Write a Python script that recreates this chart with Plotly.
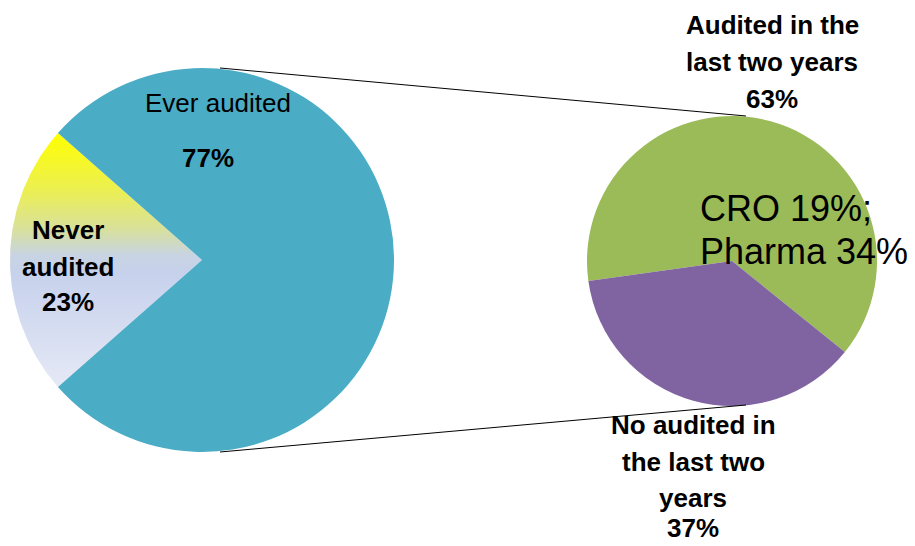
import numpy as np
import plotly.graph_objects as go

W, H = 915, 546

# Main pie: share of sites ever audited
main_labels = ["Ever audited", "Never audited"]
main_values = [77, 23]

# Secondary pie: breakdown of the audited share
sub_labels = ["Audited in the last two years", "No audited in the last two years"]
sub_values = [63, 37]
sub_note = ["CRO 19%;", "Pharma 34%"]

TEAL = "#4bacc6"
GREEN = "#9bbb59"
PURPLE = "#8064a2"

# pie geometry in pixels (centre x, centre y from top, radius)
main_c = (202, 260, 192)
sub_c = (732, 261, 145)


def domain(cx, cy, r):
    return dict(x=[(cx - r) / W, (cx + r) / W], y=[(H - cy - r) / H, (H - cy + r) / H])


main_total = sum(main_values)
never_span = 360 * main_values[1] / main_total
# "Never audited" slice centred on 9 o'clock, slices run clockwise
main_rot = 270 + never_span / 2 - 360

sub_total = sum(sub_values)
no_span = 360 * sub_values[1] / sub_total
sub_rot = 195.5 + no_span / 2

fig = go.Figure()

# gradient-filled wedge for the "Never audited" slice, computed from its value
cx, cy, r = main_c
a0 = np.deg2rad(270 - never_span / 2)
a1 = np.deg2rad(270 + never_span / 2)
ang = np.linspace(a0, a1, 120)
wx = np.concatenate([[cx], cx + r * np.sin(ang), [cx]])
wy = np.concatenate([[H - cy], (H - cy) + r * np.cos(ang), [H - cy]])
fig.add_trace(go.Scatter(
    x=wx, y=wy, mode="lines", line=dict(width=0), fill="toself",
    fillgradient=dict(
        type="vertical",
        colorscale=[
            [0.0, "#e6e9f6"],
            [0.45, "#c6d1ec"],
            [0.52, "#c8d4e2"],
            [0.62, "#d8e09c"],
            [0.78, "#ecf050"],
            [1.0, "#ffff00"],
        ],
    ),
    hoverinfo="skip", showlegend=False,
))

fig.add_trace(go.Pie(
    labels=main_labels, values=main_values, sort=False, direction="clockwise",
    rotation=main_rot, domain=domain(*main_c),
    marker=dict(colors=[TEAL, "rgba(0,0,0,0)"], line=dict(width=0)),
    textinfo="none", showlegend=False,
))

fig.add_trace(go.Pie(
    labels=sub_labels, values=sub_values, sort=False, direction="clockwise",
    rotation=sub_rot, domain=domain(*sub_c),
    marker=dict(colors=[GREEN, PURPLE], line=dict(width=0)),
    textinfo="none", showlegend=False,
))

# connector lines between the two pies
for (x0, y0), (x1, y1) in [((220, 68), (746, 116)), ((220, 452), (746, 405))]:
    fig.add_shape(type="line", xref="x", yref="y", x0=x0, y0=H - y0, x1=x1, y1=H - y1,
                  line=dict(color="black", width=1))

SANS = "Liberation Sans, Arial, sans-serif"


def label(x, ys, lines, size=26, bold=True, xanchor="center"):
    # one annotation per text line so the line pitch can be set freely
    for y, t in zip(ys, lines):
        fig.add_annotation(x=x, y=H - y, xref="x", yref="y",
                           text=f"<b>{t}</b>" if bold else t, showarrow=False,
                           xanchor=xanchor, yanchor="middle", borderpad=0,
                           font=dict(family=SANS, size=size, color="black"))


label(218, [103], [main_labels[0]], bold=False)
label(208, [158], [f"{main_values[0]}%"])
label(68, [230, 267, 302], main_labels[1].split(" ") + [f"{main_values[1]}%"])
label(772, [25, 62, 99], ["Audited in the", "last two years", f"{sub_values[0]}%"])
label(693, [425, 462, 498, 528], ["No audited in", "the last two", "years", f"{sub_values[1]}%"])
label(699, [208, 251], sub_note, size=36, bold=False, xanchor="left")

fig.update_layout(
    width=W, height=H, margin=dict(l=0, r=0, t=0, b=0),
    paper_bgcolor="white", plot_bgcolor="white",
    xaxis=dict(range=[0, W], visible=False, fixedrange=True),
    yaxis=dict(range=[0, H], visible=False, fixedrange=True),
)

fig.write_html("out.html")
